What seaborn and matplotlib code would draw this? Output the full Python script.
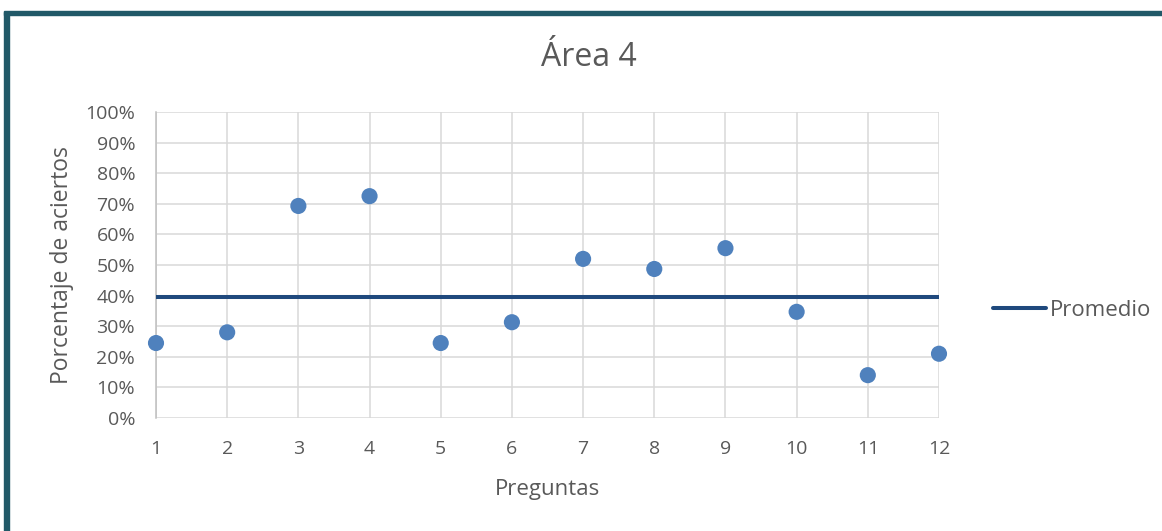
import matplotlib
matplotlib.use("Agg")
import matplotlib.pyplot as plt
import seaborn as sns
import numpy as np
import pandas as pd
from matplotlib.lines import Line2D
from matplotlib.patches import Rectangle

# Question numbers and share of correct answers
preguntas = [1, 2, 3, 4, 5, 6, 7, 8, 9, 10, 11, 12]
aciertos = [0.245, 0.28, 0.693, 0.725, 0.245, 0.313, 0.52, 0.487, 0.555, 0.347, 0.14, 0.21]
y_ticks = [0.0, 0.1, 0.2, 0.3, 0.4, 0.5, 0.6, 0.7, 0.8, 0.9, 1.0]
y_tick_labels = ["0%", "10%", "20%", "30%", "40%", "50%", "60%", "70%", "80%", "90%", "100%"]

promedio = float(np.mean(aciertos))

sns.set_theme(style="white")
plt.rcParams["font.family"] = ["Open Sans", "DejaVu Sans"]

TEXT = "#595959"
GRID = "#D9D9D9"
DOT = "#4F81BD"
LINE = "#1F497D"
FRAME = "#215968"

df = pd.DataFrame({"Pregunta": preguntas, "Aciertos": aciertos})
df_prom = pd.DataFrame({"Pregunta": [preguntas[0], preguntas[-1]],
                        "Promedio": [promedio, promedio]})

fig = plt.figure(figsize=(11.62, 5.31), dpi=100)
ax = fig.add_axes([156 / 1162, 1 - 418 / 531, (939 - 156) / 1162, (418 - 112) / 531])

sns.lineplot(data=df_prom, x="Pregunta", y="Promedio", ax=ax, color=LINE,
             linewidth=2.9, solid_capstyle="round", zorder=3)
sns.scatterplot(data=df, x="Pregunta", y="Aciertos", ax=ax, color=DOT,
                s=135, edgecolor="none", zorder=4, clip_on=False)

ax.set_xlim(1, 12)
ax.set_ylim(0, 1)
ax.set_xticks(preguntas)
ax.set_xticklabels([str(p) for p in preguntas])
ax.set_yticks(y_ticks)
ax.set_yticklabels(y_tick_labels)
ax.grid(True, color=GRID, linewidth=1.1)
ax.set_axisbelow(True)
for side in ["top", "right", "bottom"]:
    ax.spines[side].set_visible(False)
ax.spines["left"].set_color("#BFBFBF")
ax.spines["left"].set_linewidth(1.1)
ax.tick_params(axis="both", length=0, labelsize=14, labelcolor=TEXT)
ax.tick_params(axis="x", pad=16)
ax.tick_params(axis="y", pad=15)

ax.set_xlabel("Preguntas", fontsize=16, color=TEXT)
ax.xaxis.set_label_coords(0.5, -(490 - 418) / 306, transform=ax.transAxes)
ax.xaxis.label.set_va("center")
ax.set_ylabel("Porcentaje de aciertos", fontsize=16.5, color=TEXT)
ax.yaxis.set_label_coords((62 - 156) / 783, 0.5, transform=ax.transAxes)
ax.yaxis.label.set_va("center")

fig.text(589 / 1162, 1 - 57 / 531, "Área 4", fontsize=23, color=TEXT,
         ha="center", va="center")

handle = Line2D([0], [0], color=LINE, linewidth=2.9, solid_capstyle="round")
fig.legend([handle], ["Promedio"], loc="center left",
           bbox_to_anchor=(993 / 1162, 1 - 310 / 531), frameon=False,
           fontsize=16, labelcolor=TEXT, handlelength=2.4, handletextpad=0.15,
           borderpad=0, borderaxespad=0)

# Frame edges along the top and left of the chart area
fig.patches.append(Rectangle((4 / 1162, 1 - 15 / 531), 1 - 4 / 1162, 4 / 531,
                             transform=fig.transFigure, color=FRAME, zorder=10))
fig.patches.append(Rectangle((4 / 1162, 0), 5 / 1162, 1 - 12 / 531,
                             transform=fig.transFigure, color=FRAME, zorder=10))

fig.savefig("out.png", dpi=100, facecolor="white")
